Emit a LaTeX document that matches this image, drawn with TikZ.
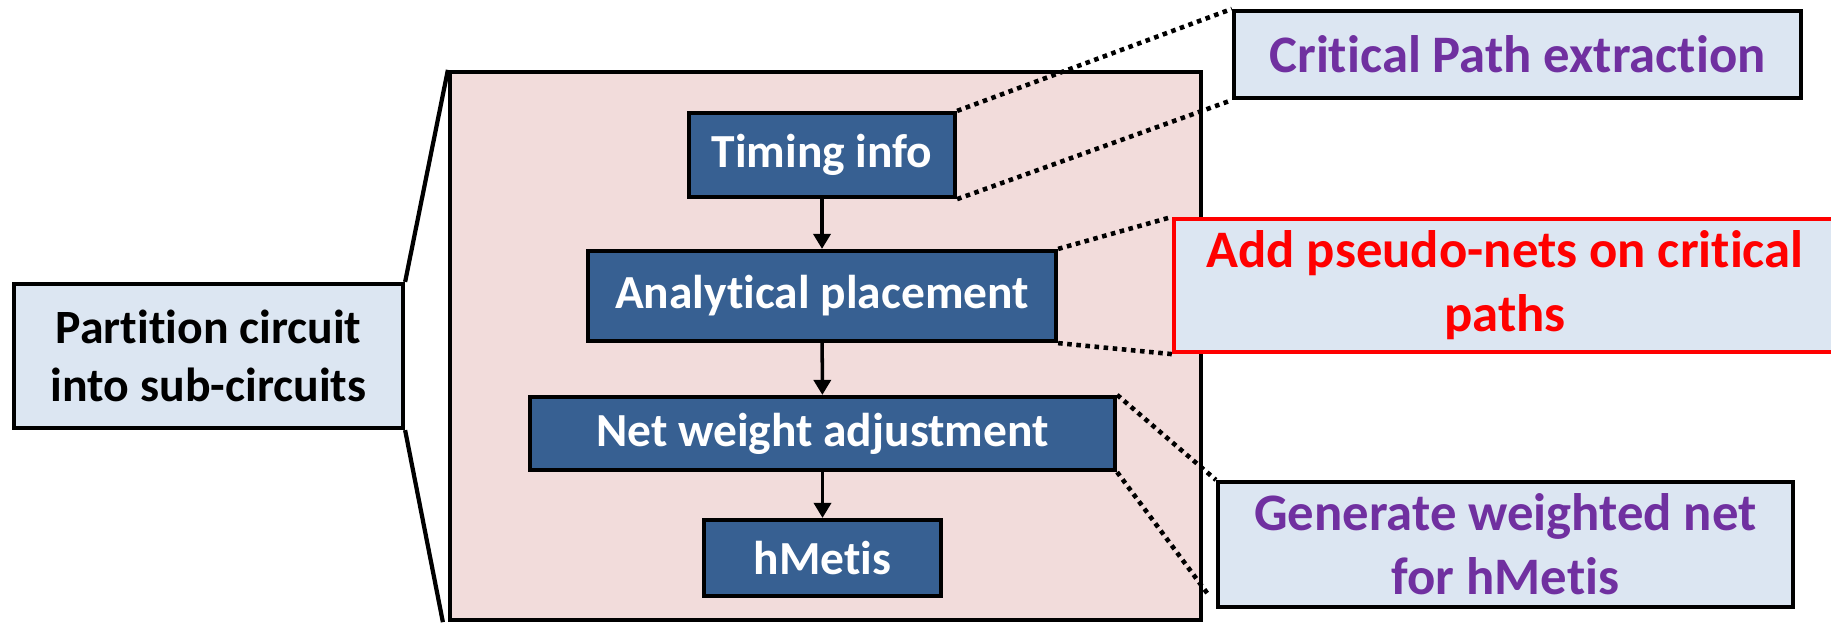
\documentclass[tikz,border=0pt]{standalone}
\usepackage{fontspec}
\setmainfont{Carlito}[Ligatures=NoCommon]
\usepackage{tikz}
\usetikzlibrary{arrows.meta}
\usepackage{xcolor}
\definecolor{fblue}{HTML}{376092}
\definecolor{fpale}{HTML}{DCE6F2}
\definecolor{fpink}{HTML}{F2DCDB}
\definecolor{fpurple}{HTML}{7030A0}
\tikzset{
  stepbox/.style = {draw, line width=1.2pt, fill=fblue, text=white, inner sep=0pt,
                    align=center, font=\fontsize{13.5}{16.4}\selectfont\bfseries},
  notebox/.style = {draw, line width=1.2pt, fill=fpale, inner sep=0pt,
                    align=center, font=\fontsize{15}{18.2}\selectfont\bfseries},
  panel/.style   = {draw, line width=1.2pt, fill=fpink, inner sep=0pt},
  sig/.style     = {-{Triangle[length=1.5mm,width=1.7mm]}, line width=1pt},
  callout/.style = {line width=1.3pt, dash pattern=on 1.3pt off 1.3pt},
}

\begin{document}
\begin{tikzpicture}[x=1cm,y=1cm]
\useasboundingbox (0,0) rectangle (18.31,6.25);
\clip (0,0) rectangle (18.31,6.25);
% zoomed-in flow and its source box
\node[panel,minimum width=7.51cm,minimum height=5.48cm] (panel) at (8.255,2.79) {};
\node[notebox,font=\fontsize{13.6}{16.6}\selectfont\bfseries,
      minimum width=3.89cm,minimum height=1.44cm] (part) at (2.085,2.69)
  {Partition circuit\\into sub-circuits};
\draw[line width=1.2pt] (part.north east) -- (panel.north west);
\draw[line width=1.2pt] (part.south east) -- ([xshift=-0.05cm]panel.south west);
% steps
\node[stepbox,minimum width=2.66cm,minimum height=0.84cm] (timing) at (8.22,4.70) {Timing info};
\node[stepbox,minimum width=4.68cm,minimum height=0.90cm] (place) at (8.22,3.29) {Analytical placement};
\node[stepbox,minimum width=5.85cm,minimum height=0.73cm] (weight) at (8.225,1.915) {Net weight adjustment};
\node[stepbox,minimum width=2.37cm,minimum height=0.76cm] (hmetis) at (8.225,0.67) {hMetis};
\foreach \a/\b in {timing/place, place/weight, weight/hmetis}
  \draw[sig] (\a) -- (\b);
% notes on the right
\node[notebox,text=fpurple,minimum width=5.67cm,minimum height=0.87cm] (crit) at (15.175,5.705)
  {Critical Path extraction};
\node[notebox,draw=red,text=red,minimum width=6.62cm,minimum height=1.33cm] (pseudo) at (15.05,3.395)
  {Add pseudo-nets on critical\\paths};
\node[notebox,text=fpurple,minimum width=5.75cm,minimum height=1.25cm] (gen) at (15.055,0.805)
  {Generate weighted net\\for hMetis};
% callout lines
\draw[callout] (timing.north east) -- (crit.north west);
\draw[callout] (timing.south east) -- (crit.south west);
\draw[callout] (place.north east) -- (pseudo.north west);
\draw[callout] (place.south east) -- (pseudo.south west);
\draw[callout] (weight.north east) -- (gen.north west);
\draw[callout] (weight.south east) -- ([shift={(-0.08,0.15)}]gen.south west);
\end{tikzpicture}
\end{document}
